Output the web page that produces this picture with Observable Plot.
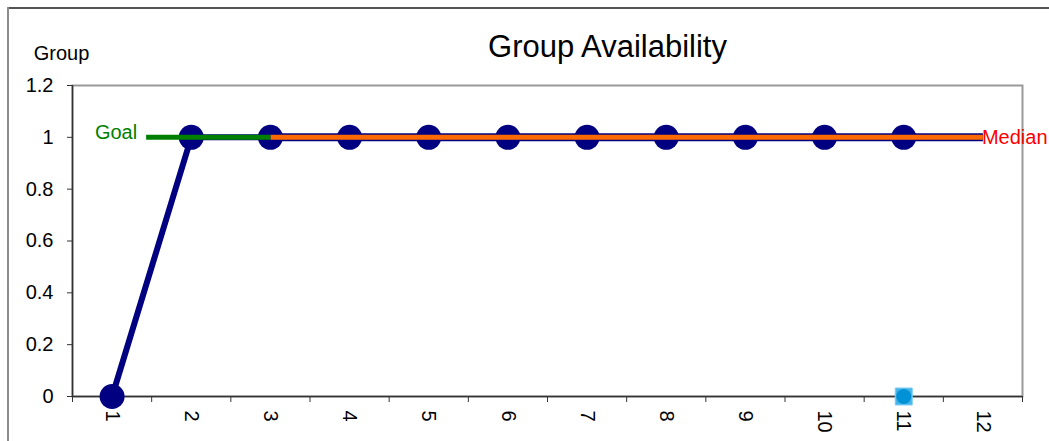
<!DOCTYPE html>
<html><head><meta charset="utf-8">
<script src="https://cdn.jsdelivr.net/npm/d3@7"></script>
<script src="https://cdn.jsdelivr.net/npm/@observablehq/plot@0.6"></script>
<style>
html,body{margin:0;padding:0;background:#fff;}
#wrap{position:relative;width:1049px;height:441px;overflow:hidden;font-family:"Liberation Sans",Arial,sans-serif;}
#wrap svg{position:absolute;left:0;top:0;}
#wrap .bl{position:absolute;left:7px;top:7px;width:2px;height:434px;background:#8c8c8c;z-index:2;}
#wrap .bt{position:absolute;left:7px;top:7px;height:2px;width:1042px;background:#555;z-index:2;}
</style></head><body><div id="wrap"><div class="bt"></div><div class="bl"></div></div>
<script>
const categories = [1,2,3,4,5,6,7,8,9,10,11,12];
const xTickLabels = ["1","2","3","4","5","6","7","8","9","10","11","12"];
const availability = [0,1,1,1,1,1,1,1,1,1,1,null];
const median = [null,null,1,1,1,1,1,1,1,1,1,1];
const goalX = [1.43,3];
const goalY = [1,1];
const extraX = [11];
const extraY = [0];
const yTicks = [0,0.2,0.4,0.6,0.8,1,1.2];
const yTickLabels = ["0","0.2","0.4","0.6","0.8","1","1.2"];
const chartTitle = "Group Availability";
const yLabel = "Group";

const availData = categories.map((c,i)=>({x:c,y:availability[i]})).filter(d=>d.y!=null);
const medianData = categories.map((c,i)=>({x:c,y:median[i]})).filter(d=>d.y!=null);
const goalData = goalX.map((x,i)=>({x,y:goalY[i]}));
const extraData = extraX.map((x,i)=>({x,y:extraY[i]}));
const boundaries = categories.map(c=>c-0.5).concat([categories[categories.length-1]+0.5]);
const font = "Liberation Sans, Arial, sans-serif";

const plot = Plot.plot({
  width:1049, height:441,
  marginLeft:72, marginRight:27, marginTop:85, marginBottom:45,
  style:{fontFamily:font, fontSize:"20px", background:"transparent", overflow:"visible", color:"#000"},
  x:{domain:[0.5,12.5], axis:null},
  y:{domain:[0,1.2], axis:null},
  marks:[
    Plot.frame({stroke:"#999", strokeWidth:2}),
    Plot.axisY({ticks:yTicks, tickFormat:d=>yTickLabels[yTicks.indexOf(d)], tickSize:5, tickPadding:14, label:null, fontSize:20, stroke:"#333"}),
    Plot.axisX({ticks:boundaries, tickFormat:()=>"", tickSize:6, label:null, stroke:"#333"}),
    Plot.ruleY([0],{stroke:"#333", strokeWidth:1.5}),
    Plot.ruleX([0.5],{stroke:"#333", strokeWidth:1.5}),
    Plot.text(categories,{x:d=>d, text:(d,i)=>xTickLabels[i], frameAnchor:"bottom", rotate:90, textAnchor:"start", lineAnchor:"middle", dy:14, fontSize:20, fill:"#000"}),
    Plot.line(availData,{x:"x", y:"y", stroke:"#000080", strokeWidth:6}),
    Plot.dot(availData,{x:"x", y:"y", r:12.5, fill:"#000080"}),
    Plot.line(medianData,{x:"x", y:"y", stroke:"#000080", strokeWidth:8, strokeLinecap:"butt"}),
    Plot.line(medianData,{x:"x", y:"y", stroke:"#ff6a00", strokeWidth:5, strokeLinecap:"butt"}),
    Plot.line(goalData,{x:"x", y:"y", stroke:"#008000", strokeWidth:5, strokeLinecap:"butt"}),
    Plot.dot(extraData,{x:"x", y:"y", symbol:"square", r:9.6, fill:"#45b4ea", stroke:"#7fcdf2", strokeWidth:1}),
    Plot.dot(extraData,{x:"x", y:"y", r:7.5, fill:"#0092d6"}),
    Plot.text([goalData[0]],{x:"x", y:"y", text:()=>"Goal", textAnchor:"end", lineAnchor:"top", dx:-9, dy:-13, fontSize:20, fill:"#008000"}),
    Plot.text([medianData[medianData.length-1]],{x:"x", y:"y", text:()=>"Median", textAnchor:"start", lineAnchor:"top", dx:-1, dy:-8, fontSize:20, fill:"#ff0000"}),
    Plot.text([chartTitle],{frameAnchor:"top", text:d=>d, textAnchor:"middle", lineAnchor:"top", dx:60, dy:-51, fontSize:31, fill:"#000"}),
    Plot.text([yLabel],{frameAnchor:"top-left", text:d=>d, textAnchor:"middle", lineAnchor:"top", dx:-11, dy:-40, fontSize:20, fill:"#000"})
  ]
});
document.getElementById("wrap").appendChild(plot);
</script>
</body></html>
